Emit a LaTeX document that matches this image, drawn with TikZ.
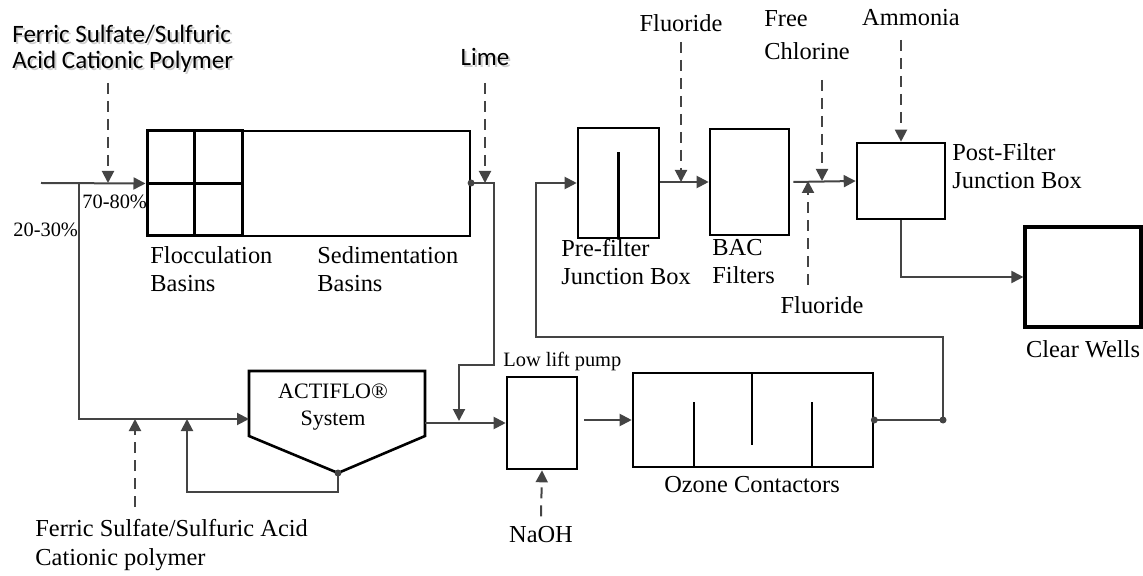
\documentclass[tikz,border=0pt]{standalone}
\usepackage{fontspec}
\setmainfont{Liberation Serif}
\newfontfamily\calib{Carlito}
\usepackage{tikz}
\usetikzlibrary{arrows.meta,positioning}
\definecolor{pipe}{RGB}{68,68,68}
\definecolor{shade}{RGB}{205,205,205}
\newcommand\shadowed[1]{\rlap{\kern1pt\raisebox{-1pt}{\textcolor{shade}{#1}}}#1}

\begin{document}
\begin{tikzpicture}[x=0.5pt,y=-0.5pt,
  pipe/.style={draw=pipe,line width=1pt},
  flow/.style={pipe,-{Triangle[length=6pt,width=6pt]}},
  feed/.style={flow,dash pattern=on 5.5pt off 3.5pt},
  unit/.style={draw,line width=1.3pt,inner sep=0pt},
  lbl/.style={font=\fontsize{12.2}{14}\selectfont,align=left,inner sep=0pt},
  small/.style={font=\fontsize{10.2}{12}\selectfont,inner sep=0pt},
  sanslbl/.style={font=\calib\fontsize{12.5}{13}\selectfont,align=left,inner sep=0pt},
  junction/.style={circle,fill=pipe,inner sep=0pt,minimum size=3.5pt}]
  \useasboundingbox (0,0) rectangle (1143,576);

  % flocculation cells at the head of the sedimentation basins
  \node[unit,line width=1.1pt,minimum width=161.5pt,minimum height=52.5pt] (sed) at (308.5,183.5) {};
  \node[unit,line width=1.5pt,minimum width=47.5pt,minimum height=52.5pt] (floc) at (194.5,183.5) {};
  \draw[line width=1.3pt] (floc.north) -- (floc.south) (floc.west) -- (floc.east);
  \node[lbl,anchor=west] (floclbl) at (150,269) {Flocculation\\Basins};
  \node[lbl,anchor=west] (sedlbl) at (317,269) {Sedimentation\\Basins};

  % raw water, split between the basins and the ACTIFLO line
  \coordinate (intake) at (41,183);
  \coordinate (split) at (79,183);
  \draw[flow] (intake) -- (floc.west);
  \node[sanslbl,anchor=west] (ferrictop) at (12,50) {\shadowed{Ferric Sulfate/Sulfuric}\\\shadowed{Acid Cationic Polymer}};
  \coordinate (ferricin) at (108,83);
  \draw[feed] (ferricin) -- (ferricin |- intake);
  \node[small,anchor=west] (pmain) at (82,202) {70-80\%};
  \node[small,anchor=west] (pside) at (13,230) {20-30\%};

  % ACTIFLO unit
  \draw[line width=1.3pt] (249,371) -- (425,371) -- (425,436) -- (338,473) -- (249,436) -- cycle;
  \node[font=\fontsize{11}{13.5}\selectfont,align=center,inner sep=0pt] (actiflo) at (333,407) {ACTIFLO®\\System};
  \coordinate (actin) at (249,419);
  \coordinate (actout) at (425,423);
  \coordinate (actsludge) at (338,473);
  \coordinate (recyc) at (187,419);
  \draw[flow] (split) |- (actin);
  \draw[flow] (actsludge) -- (actsludge |- 0,492) -| (recyc);
  \node[junction] (sludgedot) at (actsludge) {};
  \coordinate (ferriclow) at (135,507);
  \draw[feed] (ferriclow) -- (ferriclow |- actin);
  \node[lbl,anchor=west] (ferricbot) at (35,545) {Ferric Sulfate/Sulfuric Acid\\[0.5pt]Cationic polymer};

  % settled water and lime
  \coordinate (sedout) at (sed.east |- intake);
  \coordinate (limemix) at (459,421);
  \node[junction] (seddot) at (sedout) {};
  \draw[flow] (sedout) -| (494,365) -| (limemix);
  \node[sanslbl] (lime) at (485,58) {\shadowed{Lime}};
  \coordinate (limein) at (485,83);
  \draw[feed] (limein) -- (limein |- intake);

  % low lift pump and ozone
  \node[unit,minimum width=35pt,minimum height=46pt] (pump) at (542,423) {};
  \draw[flow] (actout) -- (pump.west);
  \node[small,anchor=west] (pumplbl) at (503,361) {Low lift pump};
  \node[lbl] (naoh) at (541,535) {NaOH};
  \draw[feed] ([yshift=5pt]naoh.north) -- (pump.south);
  \node[unit,minimum width=120pt,minimum height=47pt] (ozone) at (753,420) {};
  \draw[flow] ([xshift=3pt]pump.east |- ozone.west) -- (ozone.west);
  \foreach \bx/\by in {694/402,812/402}
    \draw[line width=1.3pt] (\bx,467) -- (\bx,\by);
  \draw[line width=1.3pt] (752,373) -- (752,445);
  \node[lbl] (ozonelbl) at (752,485) {Ozone Contactors};

  % filtration train
  \node[unit,minimum width=40.5pt,minimum height=55pt] (prefilter) at (618.5,183) {};
  \draw[line width=1.3pt] (prefilter.south) -- ([yshift=-12.5pt]prefilter.north);
  \node[lbl,anchor=west] (prelbl) at (561,262) {Pre-filter\\Junction Box};
  \node[unit,minimum width=39.5pt,minimum height=53pt] (bac) at (749.5,182) {};
  \draw[flow] (prefilter.east |- bac.west) -- (bac.west);
  \node[lbl,anchor=west] (baclbl) at (712,262) {BAC\\Filters};
  \node[lbl] (fluor1) at (681,23) {Fluoride};
  \draw[feed] (fluor1.south |- 0,42) -- (fluor1.south |- bac.west);
  \node[unit,minimum width=44pt,minimum height=38pt] (post) at (901,181) {};
  \draw[flow] ([xshift=1.5pt]bac.east) -- (post.west);
  \node[lbl,anchor=west] (postlbl) at (952,166) {Post-Filter\\Junction Box};
  \node[lbl,anchor=west,font=\fontsize{12.2}{16.5}\selectfont] (chlorine) at (764,35) {Free\\Chlorine};
  \coordinate (clfree) at (822,80);
  \draw[feed] (clfree) -- (clfree |- post.west);
  \node[lbl] (fluor2) at (822,305) {Fluoride};
  \coordinate (fl2) at (808,285);
  \draw[feed] (fl2) -- (fl2 |- post.west);
  \node[lbl] (nh3) at (911,18) {Ammonia};
  \draw[feed] (post.north |- 0,40) -- (post.north);

  % ozonated water back up to the pre-filter box
  \coordinate (riser) at (943,420);
  \draw[flow] (ozone.east) -- (riser) |- (536,337) |- (prefilter.west);
  \node[junction] (ozdot) at (ozone.east) {};
  \node[junction] (riserdot) at (riser) {};

  % storage
  \node[unit,line width=1.6pt,minimum width=58pt,minimum height=50pt] (clear) at (1083,277) {};
  \draw[flow] (post.south) |- (clear.west);
  \node[lbl] (clearlbl) at (1083,349) {Clear Wells};
\end{tikzpicture}
\end{document}
